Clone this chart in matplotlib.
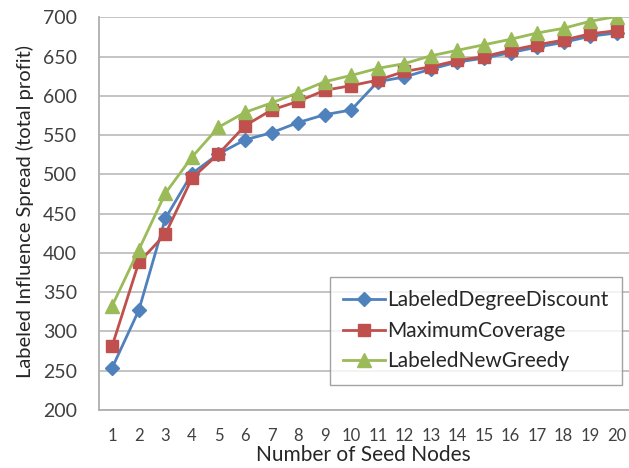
import matplotlib
matplotlib.use("Agg")
import matplotlib.pyplot as plt

plt.rcParams['font.family'] = ['Lato', 'DejaVu Sans']

seeds = list(range(1, 21))
ldd = [254, 327, 444, 501, 526, 544, 553, 566, 576, 582, 618, 624, 634, 643, 648, 655, 662, 668, 676, 680]
mc  = [282, 388, 424, 495, 526, 562, 582, 593, 607, 613, 620, 631, 637, 645, 650, 658, 665, 671, 679, 683]
lng = [333, 404, 476, 522, 560, 579, 591, 604, 618, 626, 635, 641, 651, 658, 665, 672, 680, 686, 695, 701]

labels = ["LabeledDegreeDiscount", "MaximumCoverage", "LabeledNewGreedy"]
colors = ["#4F81BD", "#C0504D", "#9BBB59"]

W, H = 629, 468
fig = plt.figure(figsize=(W/100, H/100), dpi=100)
ax = fig.add_axes([99/W, 1-410/H, 531/W, (410-17.3)/H])

ax.plot(seeds, ldd, color=colors[0], lw=2.0, marker='D', ms=7, label=labels[0])
ax.plot(seeds, mc, color=colors[1], lw=2.0, marker='s', ms=9, label=labels[1])
ax.plot(seeds, lng, color=colors[2], lw=2.0, marker='^', ms=10, label=labels[2])

ax.set_xlim(0.5, 20.5)
ax.set_ylim(200, 700)
ax.set_yticks(range(200, 701, 50))
ax.set_xticks(seeds)
ax.grid(axis='y', color='#BFBFBF', lw=1.3)
ax.set_axisbelow(True)
for s in ['top', 'right']:
    ax.spines[s].set_visible(False)
for s in ['left', 'bottom']:
    ax.spines[s].set_color('#AFAFAF')
    ax.spines[s].set_linewidth(1.3)
ax.tick_params(axis='y', length=0, pad=16, labelsize=14, colors='#404040')
ax.tick_params(axis='x', length=0, pad=13, labelsize=12, colors='#404040')

fig.text(363/W, 1-455/H, "Number of Seed Nodes", ha='center', va='center',
         fontsize=15, color='#262626')
fig.text(25/W, 1-211/H, "Labeled Influence Spread (total profit)", rotation=90,
         ha='center', va='center', fontsize=14.5, color='#262626')

leg = ax.legend(loc='lower right', bbox_to_anchor=(0.985, 0.064), borderaxespad=0,
                fontsize=15, frameon=True, fancybox=False, handlelength=2.0,
                handletextpad=0.1, labelspacing=0.5, borderpad=0.65)
leg.get_frame().set_edgecolor('#8C8C8C')
leg.get_frame().set_linewidth(1.0)
for t in leg.get_texts():
    t.set_color('#262626')

fig.savefig("out.png", dpi=100)
